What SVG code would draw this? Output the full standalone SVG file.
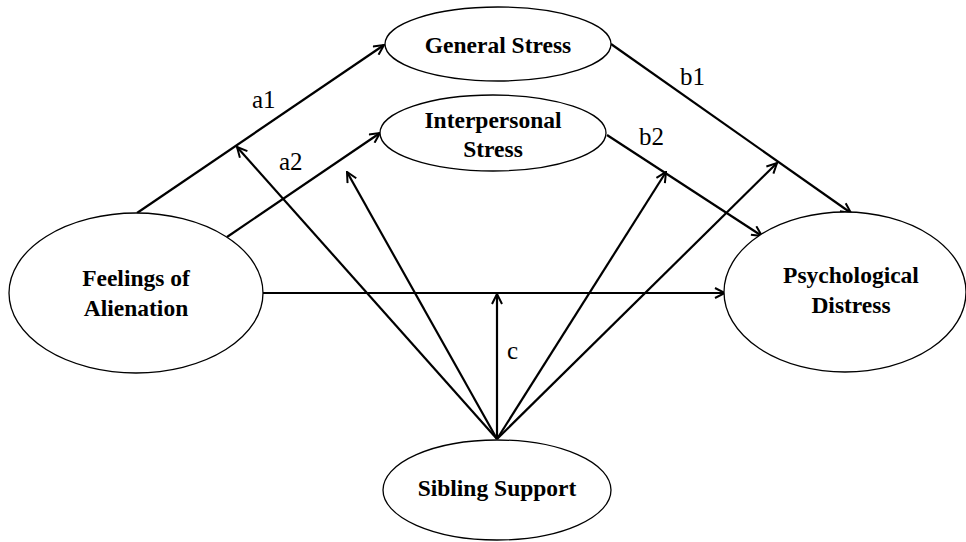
<svg xmlns="http://www.w3.org/2000/svg" width="966" height="542" viewBox="0 0 966 542">
<style>
.node ellipse{fill:#fff;stroke:#000;stroke-width:1.3}
.node text{font-family:"Liberation Serif",serif;font-weight:bold;font-size:23.5px;text-anchor:middle;fill:#000}
.conn line{stroke:#000;stroke-width:2.2;marker-end:url(#arr)}
.lbl{font-family:"Liberation Serif",serif;font-size:25px;fill:#000}
</style>
<defs>
<marker id="arr" viewBox="0 0 12 12" refX="11" refY="6" markerWidth="12" markerHeight="12" markerUnits="userSpaceOnUse" orient="auto">
<path d="M1,1 L11,6 L1,11" fill="none" stroke="#000" stroke-width="2"/>
</marker>
</defs>
<rect width="966" height="542" fill="#fff"/>
<g id="connectors" class="conn">
<line x1="137" y1="213" x2="384" y2="45"/>
<line x1="227" y1="237" x2="380" y2="133"/>
<line x1="611" y1="44" x2="851" y2="213"/>
<line x1="607" y1="135" x2="762" y2="236"/>
<line x1="263" y1="293" x2="725" y2="293"/>
<line x1="497" y1="439" x2="237" y2="147"/>
<line x1="497" y1="439" x2="347" y2="172"/>
<line x1="497" y1="439" x2="497" y2="294"/>
<line x1="497" y1="439" x2="666" y2="172"/>
<line x1="497" y1="439" x2="777" y2="163"/>
</g>
<g id="labels">
<text class="lbl" x="252" y="108">a1</text>
<text class="lbl" x="279" y="170">a2</text>
<text class="lbl" x="680" y="85">b1</text>
<text class="lbl" x="639" y="145">b2</text>
<text class="lbl" x="507" y="359">c</text>
</g>
<g id="general-stress" class="node">
<ellipse cx="498" cy="44" rx="113" ry="37"/>
<text x="498" y="53">General Stress</text>
</g>
<g id="interpersonal-stress" class="node">
<ellipse cx="493" cy="133" rx="113" ry="38"/>
<text x="493" y="128">Interpersonal</text>
<text x="493" y="157">Stress</text>
</g>
<g id="feelings-of-alienation" class="node">
<ellipse cx="136" cy="293" rx="127" ry="80"/>
<text x="136" y="286">Feelings of</text>
<text x="136" y="316">Alienation</text>
</g>
<g id="psychological-distress" class="node">
<ellipse cx="845" cy="292" rx="121" ry="80"/>
<text x="851" y="283">Psychological</text>
<text x="851" y="313">Distress</text>
</g>
<g id="sibling-support" class="node">
<ellipse cx="497" cy="490" rx="114" ry="50"/>
<text x="497" y="496">Sibling Support</text>
</g>
</svg>
